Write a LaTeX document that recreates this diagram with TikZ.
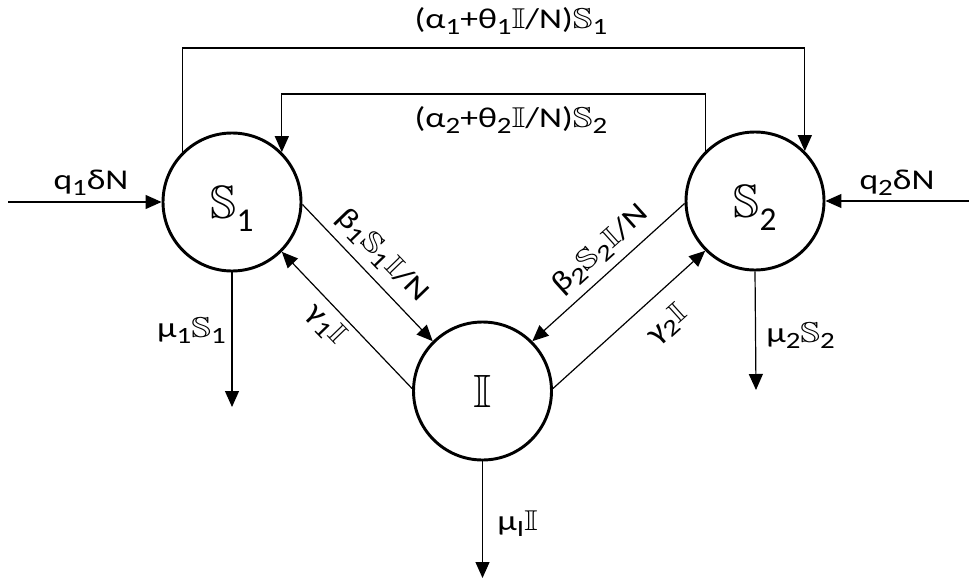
\documentclass[tikz,border=0pt]{standalone}
\usepackage{graphicx}
\usepackage{amssymb}
\usepackage{fontspec}
\setmainfont{Carlito}
\usetikzlibrary{arrows.meta}
\newcommand\bbS{$\mathbb{S}$}
\newcommand\bbI{$\mathbb{I}$}
\newcommand\sbs[1]{\raisebox{-4.5pt}{\fontsize{17.5}{17.5}\selectfont #1}}
\newcommand\lab[1]{\scalebox{1.24}[1]{\fontsize{21.5}{24}\selectfont #1}}
\newcommand\bigsub[1]{\raisebox{-9.75pt}[0pt][0pt]{\fontsize{25}{25}\selectfont #1}}
\begin{document}
\begin{tikzpicture}[x=0.75pt,y=-0.75pt,
  state/.style={circle,draw,line width=2.2pt,minimum size=103.5pt,inner sep=0pt,font=\fontsize{35}{35}\selectfont},
  arr/.style={-{Triangle[length=12pt,width=10.5pt]},line width=0.9pt},
  lbl/.style={inner sep=0pt}]
\useasboundingbox (0,0) rectangle (969,585);
\node[state] (S1) at (232,202) {\bbS\bigsub{1}};
\node[state] (S2) at (755,201) {\bbS\bigsub{2}};
\node[state] (I) at (482.5,391) {\bbI};
% diagonal flows
\draw[arr] (S1.-2) -- (I.135);
\draw[arr] (I.178) -- (S1.-45);
\draw[arr] (S2.182) -- (I.45);
\draw[arr] (I.2) -- (S2.225);
% inflows
\coordinate (inL) at (8,202);
\coordinate (inR) at (969,201);
\draw[arr] (inL) -- (S1.west);
\draw[arr] (inR) -- (S2.east);
% outflows
\coordinate (o1) at (232,407);
\coordinate (o2) at (756,390);
\coordinate (o3) at (482.5,578);
\draw[arr] (S1.south) -- (o1);
\draw[arr] (S2.south) -- (o2);
\draw[arr] (I.south) -- (o3);
% top transfers
\coordinate (t1) at (500,48);
\coordinate (t2) at (500,94);
\draw[arr] (S1.135) |- (t1) -| (S2.45);
\draw[arr] (S2.135) |- (t2) -| (S1.45);
% labels
\node[lbl,anchor=base] (Ltop) at (511,29) {\lab{(α\sbs{1}+θ\sbs{1}\bbI/N)\bbS\sbs{1}}};
\node[lbl,anchor=base] (Lmid) at (511,127) {\lab{(α\sbs{2}+θ\sbs{2}\bbI/N)\bbS\sbs{2}}};
\node[lbl,anchor=base] (Lq1) at (91,189) {\lab{q\sbs{1}δN}};
\node[lbl,anchor=base] (Lq2) at (897,189) {\lab{q\sbs{2}δN}};
\node[lbl,anchor=base east] (Lm1) at (226,337) {\lab{μ\sbs{1}\bbS\sbs{1}}};
\node[lbl,anchor=base west] (Lm2) at (766,342) {\lab{μ\sbs{2}\bbS\sbs{2}}};
\node[lbl,anchor=base west] (LmI) at (497,530) {\lab{μ\sbs{I}\bbI}};
\node[lbl,rotate=-46] (Lb1) at (382,256) {\lab{β\sbs{1}\bbS\sbs{1}\bbI/N}};
\node[lbl,rotate=-46] (Lg1) at (326,325) {\lab{γ\sbs{1}\bbI}};
\node[lbl,rotate=42] (Lb2) at (601,250) {\lab{β\sbs{2}\bbS\sbs{2}\bbI/N}};
\node[lbl,rotate=42] (Lg2) at (668,325) {\lab{γ\sbs{2}\bbI}};
\end{tikzpicture}
\end{document}
